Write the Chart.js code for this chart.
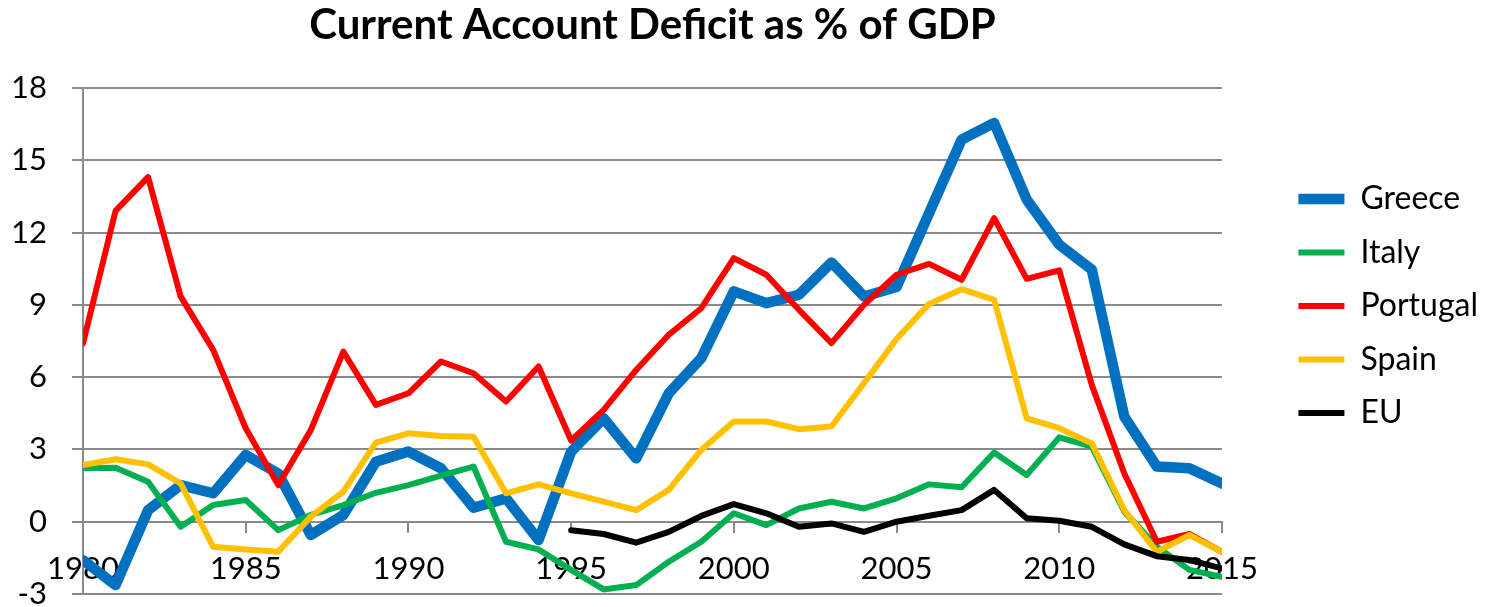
<!DOCTYPE html>
<html lang="en">
<head>
  <meta charset="UTF-8">
  <title>Current Account Deficit as % of GDP</title>
  <script src="https://cdn.jsdelivr.net/npm/chart.js"></script>
  <style>
    html, body {
      margin: 0;
      padding: 0;
      background: #ffffff;
    }
    #wrap {
      width: 1488px;
      height: 607px;
    }
  </style>
</head>
<body>
  <div id="wrap"><canvas id="cadChart"></canvas></div>

  <script>
    const years = [];
    for (let y = 1980; y <= 2015; y++) years.push(y);

    const greece = [-1.6, -2.63, 0.48, 1.52, 1.18, 2.77, 2.0, -0.55, 0.28, 2.49,
      2.91, 2.22, 0.58, 0.97, -0.76, 2.91, 4.29, 2.63, 5.33, 6.79,
      9.56, 9.07, 9.42, 10.76, 9.35, 9.74, 12.81, 15.86, 16.55, 13.37,
      11.5, 10.46, 4.36, 2.29, 2.22, 1.59];
    const italy = [2.22, 2.24, 1.66, -0.21, 0.69, 0.9, -0.35, 0.28, 0.69, 1.2,
      1.52, 1.91, 2.29, -0.83, -1.15, -2.0, -2.81, -2.63, -1.66, -0.83,
      0.35, -0.14, 0.55, 0.83, 0.55, 0.97, 1.55, 1.43, 2.87, 1.94,
      3.5, 3.12, 0.42, -1.04, -2.0, -2.29];
    const portugal = [7.4, 12.9, 14.3, 9.35, 7.13, 3.88, 1.52, 3.8, 7.06, 4.85,
      5.33, 6.65, 6.16, 4.99, 6.44, 3.37, 4.64, 6.3, 7.76, 8.86,
      10.94, 10.25, 8.8, 7.41, 9.0, 10.25, 10.7, 10.04, 12.6, 10.08,
      10.43, 5.68, 2.0, -0.83, -0.51, -1.25];
    const spain = [2.35, 2.59, 2.38, 1.59, -1.04, -1.15, -1.25, 0.21, 1.25, 3.28,
      3.67, 3.56, 3.53, 1.18, 1.55, 1.18, 0.83, 0.48, 1.32, 2.98,
      4.16, 4.16, 3.84, 3.95, 5.75, 7.58, 9.04, 9.65, 9.21, 4.29,
      3.88, 3.25, 0.48, -1.25, -0.55, -1.25];
    // EU series only starts in 1995
    const eu = [null, null, null, null, null, null, null, null, null, null,
      null, null, null, null, null, -0.35, -0.51, -0.87, -0.42, 0.24,
      0.73, 0.35, -0.21, -0.07, -0.42, 0.0, 0.25, 0.48, 1.32, 0.14,
      0.04, -0.21, -0.94, -1.43, -1.59, -1.94];

    const GRID = '#8a8a8a';
    const FONT = 'Lato, "Open Sans", sans-serif';

    function series(label, data, color, width, order) {
      return {
        label: label,
        data: data,
        borderColor: color,
        backgroundColor: color,
        borderWidth: width,
        borderJoinStyle: 'round',
        borderCapStyle: 'round',
        pointRadius: 0,
        tension: 0,
        spanGaps: false,
        clip: 0,
        order: order
      };
    }

    const ctx = document.getElementById('cadChart').getContext('2d');

    new Chart(ctx, {
      type: 'line',
      data: {
        labels: years,
        datasets: [
          series('Greece', greece, '#0070C0', 10.5, 5),
          series('Italy', italy, '#00B050', 6, 4),
          series('Portugal', portugal, '#FF0000', 6, 3),
          series('Spain', spain, '#FFC000', 6, 2),
          series('EU', eu, '#000000', 6, 1)
        ]
      },
      options: {
        responsive: true,
        maintainAspectRatio: false,
        animation: false,
        layout: {
          padding: { left: 0, right: 0, top: 0, bottom: 13 }
        },
        plugins: {
          title: {
            display: true,
            text: 'Current Account Deficit as % of GDP',
            color: '#000000',
            fullSize: false,
            font: { family: FONT, size: 42, weight: 'bold', lineHeight: 1.2 },
            padding: { top: 0.5, bottom: 37.1 }
          },
          legend: {
            position: 'right',
            align: 'start',
            title: {
              display: true,
              text: '',
              font: { size: 12, lineHeight: 1.2 },
              padding: { top: 147, bottom: 0 }
            },
            labels: {
              color: '#000000',
              font: { family: FONT, size: 32 },
              usePointStyle: true,
              pointStyle: 'line',
              pointStyleWidth: 46,
              padding: 21.5,
              sort: (a, b) => a.datasetIndex - b.datasetIndex
            }
          },
          tooltip: { enabled: false }
        },
        scales: {
          x: {
            type: 'linear',
            min: 1980,
            max: 2015,
            position: { y: 0 },
            ticks: {
              stepSize: 5,
              color: '#000000',
              font: { family: FONT, size: 31 },
              padding: 19,
              maxRotation: 0,
              callback: v => String(v)
            },
            grid: {
              drawOnChartArea: false,
              drawTicks: true,
              tickLength: 10,
              color: GRID,
              lineWidth: 2
            },
            border: { color: GRID, width: 2 }
          },
          y: {
            min: -3,
            max: 18,
            ticks: {
              stepSize: 3,
              color: '#000000',
              font: { family: FONT, size: 31 },
              padding: 25
            },
            grid: {
              color: GRID,
              lineWidth: 2,
              tickLength: 11
            },
            border: { color: GRID, width: 2 },
            afterFit: s => {
              s.width = 83;
              s.paddingBottom = 0;
            }
          },
          // empty axis that only opens the space between plot and legend
          gap: {
            type: 'linear',
            position: 'right',
            display: true,
            ticks: { display: false },
            grid: { display: false },
            border: { display: false },
            afterFit: s => { s.width = 55; }
          }
        }
      }
    });
  </script>
</body>
</html>
